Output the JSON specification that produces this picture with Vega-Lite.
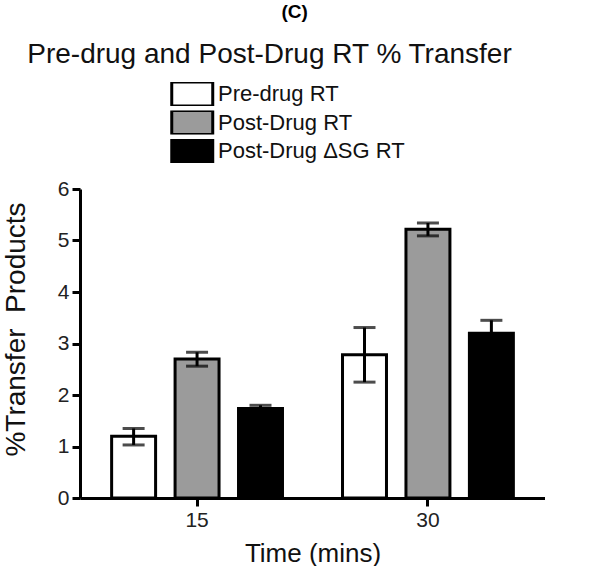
{
  "$schema": "https://vega.github.io/schema/vega-lite/v6.json",
  "background": "white",
  "padding": {"left": 2, "top": 3, "right": 0, "bottom": 0},
  "title": {"text": "(C)", "font": "Liberation Sans", "fontSize": 19, "fontWeight": "bold", "color": "black", "anchor": "middle", "dx": 21, "offset": 19},
  "vconcat": [
    {
      "width": 465,
      "height": 309,
      "title": {"text": "Pre-drug and Post-Drug RT % Transfer", "font": "Liberation Sans", "fontSize": 28, "fontWeight": "normal", "color": "#111", "anchor": "middle", "dx": -43, "offset": 109},
      "data": {
        "values": [
          {"time": "15", "group": "Pre-drug RT", "value": 1.2, "lo": 1.03, "hi": 1.35},
          {"time": "15", "group": "Post-Drug RT", "value": 2.7, "lo": 2.56, "hi": 2.83},
          {"time": "15", "group": "Post-Drug ΔSG RT", "value": 1.74, "lo": 1.68, "hi": 1.8},
          {"time": "30", "group": "Pre-drug RT", "value": 2.78, "lo": 2.25, "hi": 3.31},
          {"time": "30", "group": "Post-Drug RT", "value": 5.22, "lo": 5.09, "hi": 5.34},
          {"time": "30", "group": "Post-Drug ΔSG RT", "value": 3.2, "lo": 2.95, "hi": 3.45}
        ]
      },
      "encoding": {
        "x": {"field": "time", "type": "nominal", "title": "Time (mins)",
              "scale": {"paddingInner": 0.26, "paddingOuter": 0.137},
              "axis": {"labelAngle": 0}},
        "xOffset": {"field": "group", "type": "nominal",
                    "sort": ["Pre-drug RT", "Post-Drug RT", "Post-Drug ΔSG RT"],
                    "scale": {"paddingInner": 0.307, "paddingOuter": 0}}
      },
      "layer": [
        {
          "mark": {"type": "bar", "stroke": "black", "strokeWidth": 3},
          "encoding": {
            "y": {"field": "value", "type": "quantitative", "title": "%Transfer\u00a0\u00a0Products",
                  "scale": {"domain": [0, 6]},
                  "axis": {"values": [0, 1, 2, 3, 4, 5, 6], "titleY": 140}},
            "fill": {"field": "group", "type": "nominal",
                     "sort": ["Pre-drug RT", "Post-Drug RT", "Post-Drug ΔSG RT"],
                     "scale": {"domain": ["Pre-drug RT", "Post-Drug RT", "Post-Drug ΔSG RT"], "range": ["white", "#9b9b9b", "black"]},
                     "legend": {"title": null, "orient": "none", "legendX": 90, "legendY": -107,
                                "symbolType": "M-1,-1.17H3V1.17H-1Z", "symbolSize": 420,
                                "symbolStrokeColor": "black", "symbolStrokeWidth": 3, "symbolOpacity": 1,
                                "labelFont": "Liberation Sans", "labelFontSize": 22, "labelColor": "#111",
                                "labelLimit": 0, "labelOffset": 24, "clipHeight": 24, "rowPadding": 4.5, "padding": 0}}
          }
        },
        {
          "mark": {"type": "rule", "color": "black", "strokeWidth": 3},
          "encoding": {
            "y": {"field": "lo", "type": "quantitative"},
            "y2": {"field": "hi"}
          }
        },
        {
          "mark": {"type": "tick", "color": "black", "thickness": 3, "size": 22, "orient": "horizontal"},
          "encoding": {"y": {"field": "lo", "type": "quantitative"}}
        },
        {
          "mark": {"type": "tick", "color": "black", "thickness": 3, "size": 22, "orient": "horizontal"},
          "encoding": {"y": {"field": "hi", "type": "quantitative"}}
        }
      ]
    }
  ],
  "config": {
    "font": "Liberation Sans",
    "view": {"stroke": null},
    "axis": {
      "grid": false,
      "domainColor": "black", "domainWidth": 3,
      "tickColor": "black", "tickWidth": 3, "tickSize": 8,
      "labelFont": "Liberation Sans", "labelFontSize": 21, "labelColor": "#222",
      "titleFont": "Liberation Sans", "titleFontWeight": "normal", "titleColor": "#111"
    },
    "axisX": {"labelPadding": 3, "titleFontSize": 26, "titlePadding": 10},
    "axisY": {"labelPadding": 3, "titleFontSize": 28, "titlePadding": 27}
  }
}
